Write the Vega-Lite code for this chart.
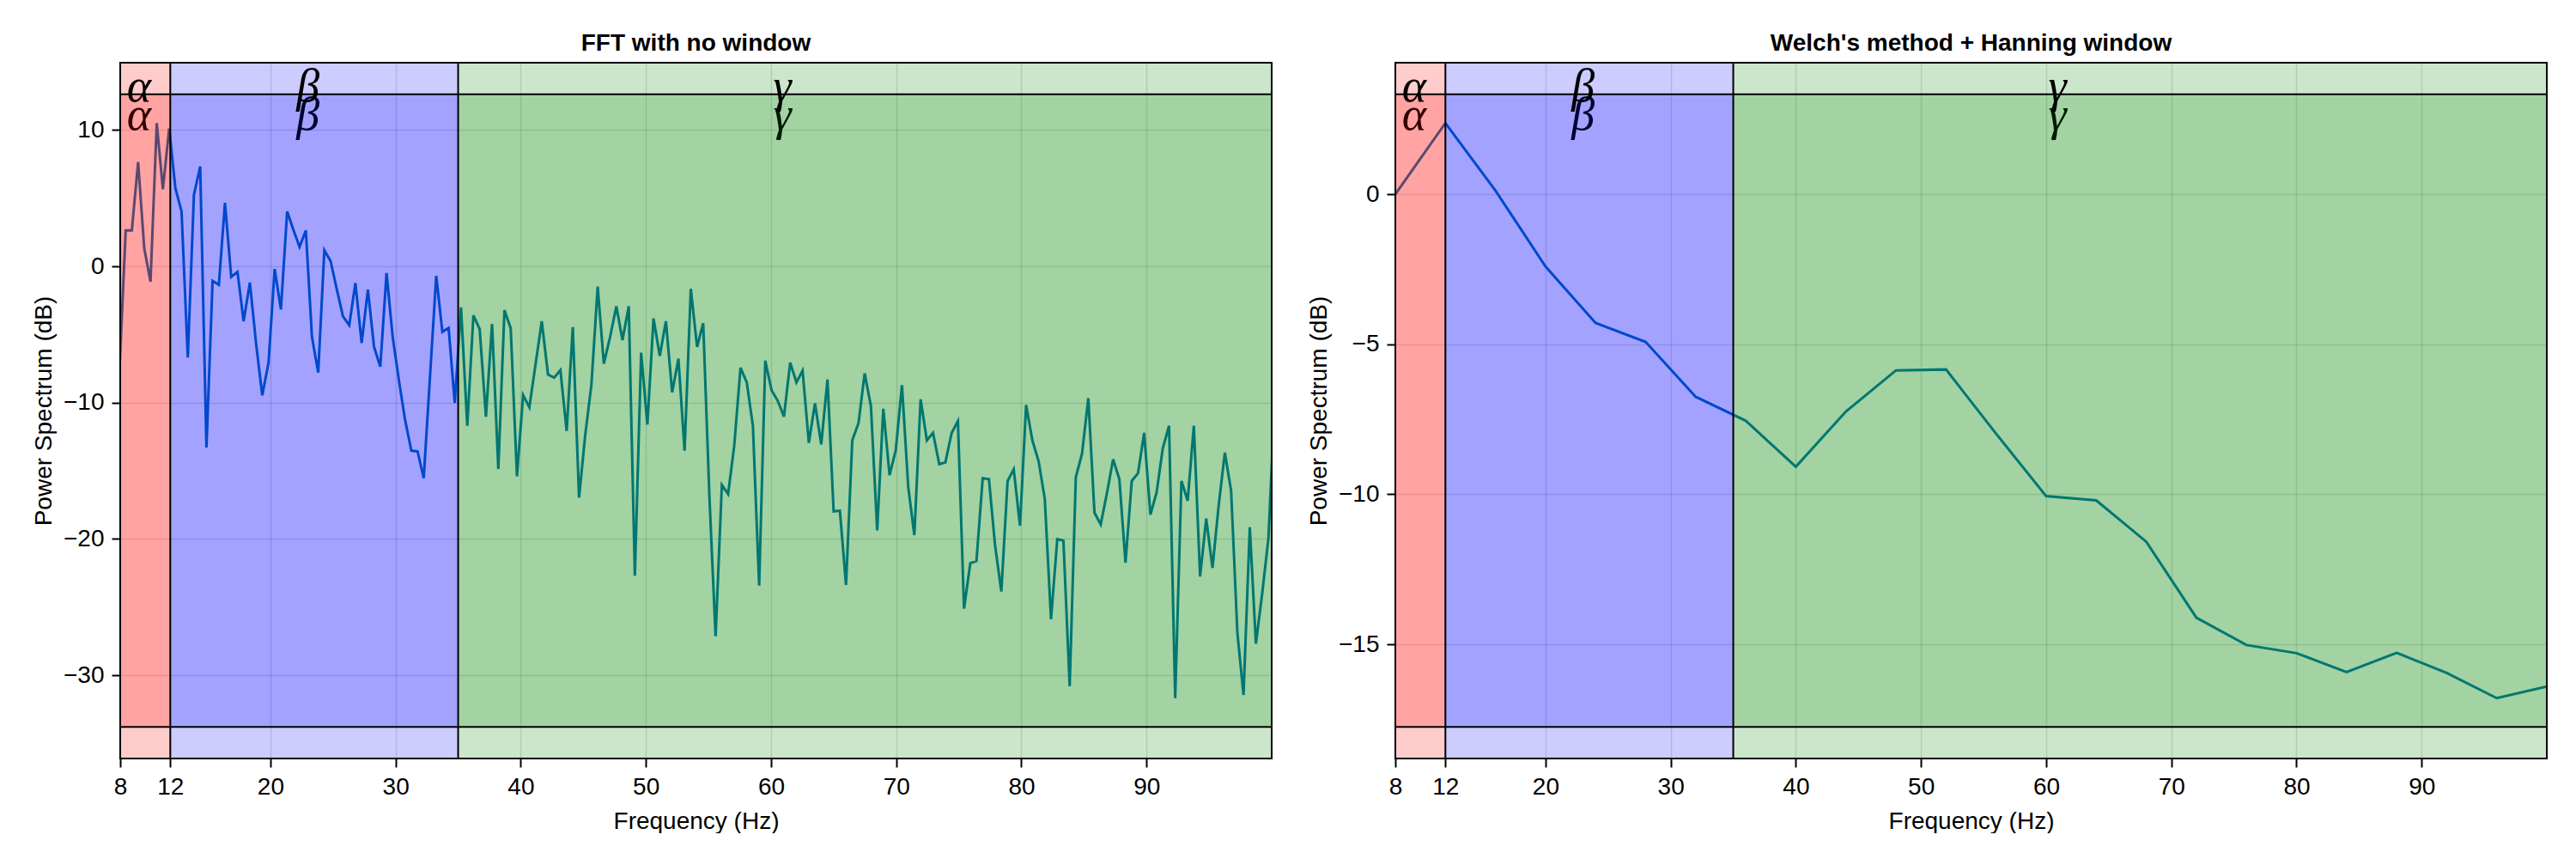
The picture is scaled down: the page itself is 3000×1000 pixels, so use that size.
{
  "$schema": "https://vega.github.io/schema/vega-lite/v6.json",
  "background": "white",
  "padding": {"left": 37, "top": 37, "right": 0, "bottom": 0},
  "spacing": 144,
  "bounds": "flush",
  "config": {
    "view": {"stroke": null},
    "font": "Liberation Sans",
    "axis": {
      "domain": false,
      "grid": true,
      "gridColor": "black",
      "gridOpacity": 0.12,
      "gridWidth": 1.5,
      "ticks": true,
      "tickColor": "black",
      "tickSize": 10,
      "tickWidth": 2,
      "labelFont": "Liberation Sans",
      "labelFontSize": 28,
      "labelColor": "black",
      "labelPadding": 9,
      "labelFlush": false,
      "labelOverlap": false,
      "titleFont": "Liberation Sans",
      "titleFontSize": 28,
      "titleFontWeight": "normal",
      "titleColor": "black",
      "titlePadding": 8
    },
    "axisX": {"titlePadding": 12},
    "title": {
      "font": "Liberation Sans",
      "fontSize": 28,
      "fontWeight": "bold",
      "color": "black",
      "anchor": "middle",
      "offset": 7,
      "baseline": "alphabetic"
    }
  },
  "datasets": {
    "fft": [
      {"f": 7.94, "db": -7.6}, {"f": 8.44, "db": 2.64}, {"f": 8.93, "db": 2.64}, {"f": 9.43, "db": 7.65},
      {"f": 9.92, "db": 1.33}, {"f": 10.42, "db": -1.13}, {"f": 10.92, "db": 10.51}, {"f": 11.41, "db": 5.65},
      {"f": 11.91, "db": 10.11}, {"f": 12.41, "db": 5.73}, {"f": 12.90, "db": 4.03}, {"f": 13.40, "db": -6.69},
      {"f": 13.89, "db": 5.24}, {"f": 14.39, "db": 7.33}, {"f": 14.89, "db": -13.29}, {"f": 15.38, "db": -1.07},
      {"f": 15.88, "db": -1.36}, {"f": 16.37, "db": 4.66}, {"f": 16.87, "db": -0.78}, {"f": 17.37, "db": -0.41},
      {"f": 17.86, "db": -4.03}, {"f": 18.36, "db": -1.19}, {"f": 18.86, "db": -5.71}, {"f": 19.35, "db": -9.47},
      {"f": 19.85, "db": -7.07}, {"f": 20.34, "db": -0.2}, {"f": 20.84, "db": -3.16}, {"f": 21.34, "db": 4.03},
      {"f": 21.83, "db": 2.69}, {"f": 22.33, "db": 1.42}, {"f": 22.83, "db": 2.64}, {"f": 23.32, "db": -5.18},
      {"f": 23.82, "db": -7.79}, {"f": 24.31, "db": 1.19}, {"f": 24.81, "db": 0.38}, {"f": 25.31, "db": -1.71},
      {"f": 25.80, "db": -3.68}, {"f": 26.30, "db": -4.32}, {"f": 26.79, "db": -1.22}, {"f": 27.29, "db": -5.62},
      {"f": 27.79, "db": -1.71}, {"f": 28.28, "db": -5.91}, {"f": 28.78, "db": -7.36}, {"f": 29.28, "db": -0.49},
      {"f": 29.77, "db": -5.18}, {"f": 30.27, "db": -8.37}, {"f": 30.76, "db": -11.27}, {"f": 31.26, "db": -13.52},
      {"f": 31.76, "db": -13.58}, {"f": 32.25, "db": -15.55}, {"f": 32.75, "db": -8.11}, {"f": 33.25, "db": -0.70},
      {"f": 33.74, "db": -4.81}, {"f": 34.24, "db": -4.52}, {"f": 34.73, "db": -10.02}, {"f": 35.23, "db": -3.01},
      {"f": 35.73, "db": -11.7}, {"f": 36.22, "db": -3.59}, {"f": 36.72, "db": -4.6}, {"f": 37.22, "db": -11.03},
      {"f": 37.71, "db": -4.23}, {"f": 38.21, "db": -14.86}, {"f": 38.70, "db": -3.21}, {"f": 39.20, "db": -4.55},
      {"f": 39.70, "db": -15.41}, {"f": 40.19, "db": -9.44}, {"f": 40.69, "db": -10.34}, {"f": 41.18, "db": -7.21},
      {"f": 41.68, "db": -4.03}, {"f": 42.18, "db": -7.94}, {"f": 42.67, "db": -8.17}, {"f": 43.17, "db": -7.62},
      {"f": 43.67, "db": -12.08}, {"f": 44.16, "db": -4.46}, {"f": 44.66, "db": -16.97}, {"f": 45.15, "db": -12.4},
      {"f": 45.65, "db": -8.66}, {"f": 46.15, "db": -1.48}, {"f": 46.64, "db": -7.15}, {"f": 47.14, "db": -5.18},
      {"f": 47.64, "db": -2.93}, {"f": 48.13, "db": -5.42}, {"f": 48.63, "db": -2.93}, {"f": 49.12, "db": -22.7},
      {"f": 49.62, "db": -6.34}, {"f": 50.12, "db": -11.61}, {"f": 50.61, "db": -3.82}, {"f": 51.11, "db": -6.57},
      {"f": 51.60, "db": -4.03}, {"f": 52.10, "db": -9.24}, {"f": 52.60, "db": -6.78}, {"f": 53.09, "db": -13.52},
      {"f": 53.59, "db": -1.65}, {"f": 54.09, "db": -5.91}, {"f": 54.58, "db": -4.17}, {"f": 55.08, "db": -17.0},
      {"f": 55.57, "db": -27.14}, {"f": 56.07, "db": -16.04}, {"f": 56.57, "db": -16.71}, {"f": 57.06, "db": -13.15},
      {"f": 57.56, "db": -7.44}, {"f": 58.06, "db": -8.51}, {"f": 58.55, "db": -11.7}, {"f": 59.05, "db": -23.43},
      {"f": 59.54, "db": -6.92}, {"f": 60.04, "db": -9.09}, {"f": 60.54, "db": -9.88}, {"f": 61.03, "db": -11.03},
      {"f": 61.53, "db": -7.07}, {"f": 62.03, "db": -8.51}, {"f": 62.52, "db": -7.65}, {"f": 63.02, "db": -12.95},
      {"f": 63.51, "db": -10.05}, {"f": 64.01, "db": -13.06}, {"f": 64.51, "db": -8.31}, {"f": 65.00, "db": -17.98},
      {"f": 65.50, "db": -17.93}, {"f": 65.99, "db": -23.37}, {"f": 66.49, "db": -12.77}, {"f": 66.99, "db": -11.5},
      {"f": 67.48, "db": -7.85}, {"f": 67.98, "db": -10.25}, {"f": 68.48, "db": -19.37}, {"f": 68.97, "db": -10.45},
      {"f": 69.47, "db": -15.32}, {"f": 69.96, "db": -13.52}, {"f": 70.46, "db": -8.72}, {"f": 70.96, "db": -16.19},
      {"f": 71.45, "db": -19.72}, {"f": 71.95, "db": -9.76}, {"f": 72.45, "db": -12.77}, {"f": 72.94, "db": -12.22},
      {"f": 73.44, "db": -14.51}, {"f": 73.93, "db": -14.39}, {"f": 74.43, "db": -12.22}, {"f": 74.93, "db": -11.35},
      {"f": 75.42, "db": -25.11}, {"f": 75.92, "db": -21.78}, {"f": 76.41, "db": -21.63}, {"f": 76.91, "db": -15.55},
      {"f": 77.41, "db": -15.61}, {"f": 77.90, "db": -20.48}, {"f": 78.40, "db": -23.86}, {"f": 78.90, "db": -15.75},
      {"f": 79.39, "db": -14.89}, {"f": 79.89, "db": -19.03}, {"f": 80.38, "db": -10.17}, {"f": 80.88, "db": -12.77},
      {"f": 81.38, "db": -14.31}, {"f": 81.87, "db": -17.06}, {"f": 82.37, "db": -25.89}, {"f": 82.87, "db": -20.01},
      {"f": 83.36, "db": -20.13}, {"f": 83.86, "db": -30.81}, {"f": 84.35, "db": -15.47}, {"f": 84.85, "db": -13.73},
      {"f": 85.35, "db": -9.67}, {"f": 85.84, "db": -18.07}, {"f": 86.34, "db": -18.94}, {"f": 86.84, "db": -16.62},
      {"f": 87.33, "db": -14.16}, {"f": 87.83, "db": -15.61}, {"f": 88.32, "db": -21.75}, {"f": 88.82, "db": -15.75},
      {"f": 89.32, "db": -15.18}, {"f": 89.81, "db": -12.22}, {"f": 90.31, "db": -18.22}, {"f": 90.80, "db": -16.62},
      {"f": 91.30, "db": -13.35}, {"f": 91.80, "db": -11.7}, {"f": 92.29, "db": -31.68}, {"f": 92.79, "db": -15.75},
      {"f": 93.29, "db": -17.2}, {"f": 93.78, "db": -11.7}, {"f": 94.28, "db": -22.76}, {"f": 94.77, "db": -18.51},
      {"f": 95.27, "db": -22.13}, {"f": 95.77, "db": -17.49}, {"f": 96.26, "db": -13.67}, {"f": 96.76, "db": -16.48},
      {"f": 97.26, "db": -26.9}, {"f": 97.75, "db": -31.45}, {"f": 98.25, "db": -19.14}, {"f": 98.74, "db": -27.69},
      {"f": 99.24, "db": -24.01}, {"f": 99.74, "db": -19.95}, {"f": 100.23, "db": -10.1}
    ],
    "welch": [
      {"f": 8, "db": 0.0}, {"f": 12, "db": 2.37}, {"f": 16, "db": 0.12}, {"f": 20, "db": -2.41},
      {"f": 24, "db": -4.29}, {"f": 28, "db": -4.92}, {"f": 32, "db": -6.75}, {"f": 36, "db": -7.55},
      {"f": 40, "db": -9.08}, {"f": 44, "db": -7.24}, {"f": 48, "db": -5.87}, {"f": 52, "db": -5.84},
      {"f": 56, "db": -7.98}, {"f": 60, "db": -10.06}, {"f": 64, "db": -10.2}, {"f": 68, "db": -11.58},
      {"f": 72, "db": -14.11}, {"f": 76, "db": -15.02}, {"f": 80, "db": -15.29}, {"f": 84, "db": -15.92},
      {"f": 88, "db": -15.28}, {"f": 92, "db": -15.95}, {"f": 96, "db": -16.79}, {"f": 100, "db": -16.4}
    ],
    "bands": [
      {"band": "alpha", "start": 8, "end": 12},
      {"band": "beta", "start": 12, "end": 35},
      {"band": "gamma", "start": 35, "end": 100}
    ],
    "bandsL": [
      {"band": "alpha", "start": 8, "end": 12, "lo": -33.79, "hi": 12.62},
      {"band": "beta", "start": 12, "end": 35, "lo": -33.79, "hi": 12.62},
      {"band": "gamma", "start": 35, "end": 100, "lo": -33.79, "hi": 12.62}
    ],
    "bandsR": [
      {"band": "alpha", "start": 8, "end": 12, "lo": -17.75, "hi": 3.33},
      {"band": "beta", "start": 12, "end": 35, "lo": -17.75, "hi": 3.33},
      {"band": "gamma", "start": 35, "end": 100, "lo": -17.75, "hi": 3.33}
    ],
    "boundsL": [{"v": -33.79}, {"v": 12.62}],
    "boundsR": [{"v": -17.75}, {"v": 3.33}],
    "labelsL": [
      {"g": "α", "x": 9.5, "y": 12.1, "pos": "top"},
      {"g": "β", "x": 23.0, "y": 12.1, "pos": "top"},
      {"g": "γ", "x": 60.9, "y": 12.1, "pos": "top"},
      {"g": "α", "x": 9.5, "y": 10.0, "pos": "lower"},
      {"g": "β", "x": 23.0, "y": 10.0, "pos": "lower"},
      {"g": "γ", "x": 60.9, "y": 10.0, "pos": "lower"}
    ],
    "labelsR": [
      {"g": "α", "x": 9.5, "y": 3.08, "pos": "top"},
      {"g": "β", "x": 23.0, "y": 3.08, "pos": "top"},
      {"g": "γ", "x": 60.9, "y": 3.08, "pos": "top"},
      {"g": "α", "x": 9.5, "y": 2.14, "pos": "lower"},
      {"g": "β", "x": 23.0, "y": 2.14, "pos": "lower"},
      {"g": "γ", "x": 60.9, "y": 2.14, "pos": "lower"}
    ],
    "frame": [{"a": 1}]
  },
  "hconcat": [
    {
      "width": 1341,
      "height": 810,
      "title": {"text": "FFT with no window"},
      "layer": [
        {
          "data": {"name": "fft"},
          "mark": {"type": "line", "color": "#0072B2", "strokeWidth": 3, "clip": true},
          "encoding": {
            "x": {"field": "f", "type": "quantitative", "scale": {"domain": [8, 100], "nice": false, "zero": false},
                  "axis": {"title": "Frequency (Hz)", "values": [8, 12, 20, 30, 40, 50, 60, 70, 80, 90]}},
            "y": {"field": "db", "type": "quantitative", "scale": {"domain": [-36.11, 14.94], "nice": false, "zero": false},
                  "axis": {"title": "Power Spectrum (dB)", "values": [-30, -20, -10, 0, 10]}}
          }
        },
        {
          "data": {"name": "bands"},
          "mark": {"type": "rect", "opacity": 0.2},
          "encoding": {
            "x": {"field": "start", "type": "quantitative"},
            "x2": {"field": "end"},
            "color": {"field": "band", "type": "nominal", "scale": {"domain": ["alpha", "beta", "gamma"], "range": ["#ff0000", "#0000ff", "#008000"]}, "legend": null}
          }
        },
        {
          "data": {"name": "labelsL"},
          "transform": [{"filter": "datum.pos === 'lower'"}],
          "mark": {"type": "text", "font": "Liberation Serif", "fontStyle": "italic", "fontSize": 54, "align": "center", "baseline": "alphabetic", "color": "black"},
          "encoding": {
            "x": {"field": "x", "type": "quantitative"},
            "y": {"field": "y", "type": "quantitative"},
            "text": {"field": "g"}
          }
        },
        {
          "data": {"name": "bandsL"},
          "mark": {"type": "rect", "opacity": 0.2},
          "encoding": {
            "x": {"field": "start", "type": "quantitative"},
            "x2": {"field": "end"},
            "y": {"field": "lo", "type": "quantitative"},
            "y2": {"field": "hi"},
            "color": {"field": "band", "type": "nominal", "legend": null}
          }
        },
        {
          "data": {"name": "boundsL"},
          "mark": {"type": "rule", "color": "black", "strokeWidth": 2},
          "encoding": {"y": {"field": "v", "type": "quantitative"}}
        },
        {
          "data": {"name": "bands"},
          "transform": [{"filter": "datum.start > 8"}],
          "mark": {"type": "rule", "color": "black", "strokeWidth": 2},
          "encoding": {"x": {"field": "start", "type": "quantitative"}}
        },
        {
          "data": {"name": "labelsL"},
          "transform": [{"filter": "datum.pos === 'top'"}],
          "mark": {"type": "text", "font": "Liberation Serif", "fontStyle": "italic", "fontSize": 54, "align": "center", "baseline": "alphabetic", "color": "black"},
          "encoding": {
            "x": {"field": "x", "type": "quantitative"},
            "y": {"field": "y", "type": "quantitative"},
            "text": {"field": "g"}
          }
        },
        {
          "data": {"name": "frame"},
          "mark": {"type": "rect", "fill": "transparent", "stroke": "black", "strokeWidth": 2},
          "encoding": {}
        }
      ]
    },
    {
      "width": 1341,
      "height": 810,
      "title": {"text": "Welch's method + Hanning window"},
      "layer": [
        {
          "data": {"name": "welch"},
          "mark": {"type": "line", "color": "#0072B2", "strokeWidth": 3, "clip": true},
          "encoding": {
            "x": {"field": "f", "type": "quantitative", "scale": {"domain": [8, 100], "nice": false, "zero": false},
                  "axis": {"title": "Frequency (Hz)", "values": [8, 12, 20, 30, 40, 50, 60, 70, 80, 90]}},
            "y": {"field": "db", "type": "quantitative", "scale": {"domain": [-18.8, 4.38], "nice": false, "zero": false},
                  "axis": {"title": "Power Spectrum (dB)", "values": [-15, -10, -5, 0]}}
          }
        },
        {
          "data": {"name": "bands"},
          "mark": {"type": "rect", "opacity": 0.2},
          "encoding": {
            "x": {"field": "start", "type": "quantitative"},
            "x2": {"field": "end"},
            "color": {"field": "band", "type": "nominal", "scale": {"domain": ["alpha", "beta", "gamma"], "range": ["#ff0000", "#0000ff", "#008000"]}, "legend": null}
          }
        },
        {
          "data": {"name": "labelsR"},
          "transform": [{"filter": "datum.pos === 'lower'"}],
          "mark": {"type": "text", "font": "Liberation Serif", "fontStyle": "italic", "fontSize": 54, "align": "center", "baseline": "alphabetic", "color": "black"},
          "encoding": {
            "x": {"field": "x", "type": "quantitative"},
            "y": {"field": "y", "type": "quantitative"},
            "text": {"field": "g"}
          }
        },
        {
          "data": {"name": "bandsR"},
          "mark": {"type": "rect", "opacity": 0.2},
          "encoding": {
            "x": {"field": "start", "type": "quantitative"},
            "x2": {"field": "end"},
            "y": {"field": "lo", "type": "quantitative"},
            "y2": {"field": "hi"},
            "color": {"field": "band", "type": "nominal", "legend": null}
          }
        },
        {
          "data": {"name": "boundsR"},
          "mark": {"type": "rule", "color": "black", "strokeWidth": 2},
          "encoding": {"y": {"field": "v", "type": "quantitative"}}
        },
        {
          "data": {"name": "bands"},
          "transform": [{"filter": "datum.start > 8"}],
          "mark": {"type": "rule", "color": "black", "strokeWidth": 2},
          "encoding": {"x": {"field": "start", "type": "quantitative"}}
        },
        {
          "data": {"name": "labelsR"},
          "transform": [{"filter": "datum.pos === 'top'"}],
          "mark": {"type": "text", "font": "Liberation Serif", "fontStyle": "italic", "fontSize": 54, "align": "center", "baseline": "alphabetic", "color": "black"},
          "encoding": {
            "x": {"field": "x", "type": "quantitative"},
            "y": {"field": "y", "type": "quantitative"},
            "text": {"field": "g"}
          }
        },
        {
          "data": {"name": "frame"},
          "mark": {"type": "rect", "fill": "transparent", "stroke": "black", "strokeWidth": 2},
          "encoding": {}
        }
      ]
    }
  ]
}
